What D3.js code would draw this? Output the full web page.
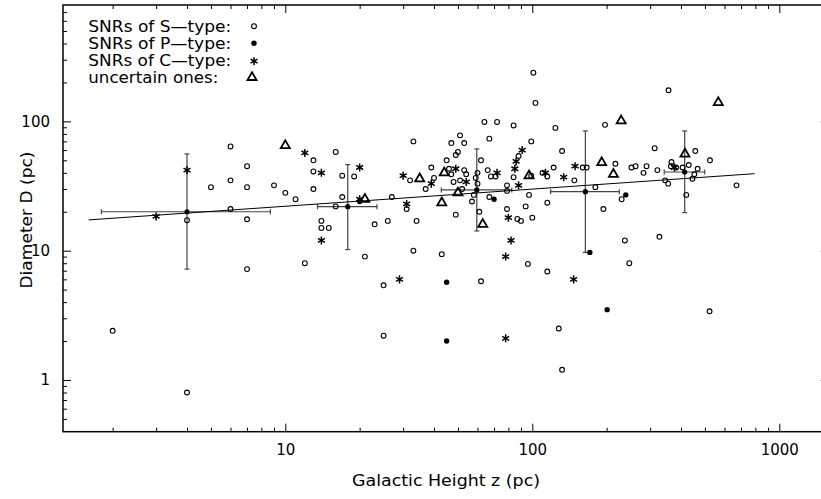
<!DOCTYPE html>
<html>
<head>
<meta charset="utf-8">
<script src="https://cdn.jsdelivr.net/npm/d3@7"></script>
<style>
  body { margin: 0; background: #fff; }
  svg { display: block; }
  text { font-family: "DejaVu Sans", sans-serif; fill: #000; }
</style>
</head>
<body>
<div id="chart"></div>
<script>
// [z (pc), D (pc)]
const sType = [
  [4,17.2],[6,64],[7,45],[5,31],[6,35],[7,31],[9,32],[10,28],[11,25],[6,21],[7,17.5],[7,7.2],[12,8],
  [16,58],[13,50],[13,41],[13,30],[17,38],[19,37.5],[17,26],[16,22],[14,17],[14,15],[15,15],[21,9],
  [23,16],[26,17],[27,26],[25,5.4],[33,70],[32,35],[39,44],[40,36.5],[37,30],[31,21],[34,17],[33,10],
  [43,9.4],[62,5.8],[45,50],[47,68],[51,78],[53,68],[49,55],[50,58],[46,43],[47,39],[53,42],[54,39],
  [48,34],[51,35],[52,30],[58,27],[57,24],[49,19],[60,40],[59,36.5],[60,33],[62,50],[64,99],[72,99],
  [67,73.5],[84,93],[66,42],[68,37.5],[71,37.5],[88,54],[84,37],[79,32],[67,26],[79,21],[94,22],[97,27],
  [87,17.6],[90,17],[96,7.9],[99,70],[99,38],[61,20],[101,238],[103,139],[124,89],[356,174],[197,94],
  [132,59],[110,40],[115,37.5],[122,44],[160,44],[166,44],[148,35],[217,47],[252,44],[262,45],[290,45],
  [282,40],[313,62],[321,42],[345,35],[355,33],[366,48.5],[364,45],[382,44],[406,44],[430,46],[457,59],
  [467,43],[524,50],[453,39],[445,36],[420,27],[671,32],[180,31],[230,25],[194,21],[237,12],[247,8],
  [327,12.8],[115,6.9],[100,18],[115,23.5],[79,29],[522,3.4],[128,2.5],[132,1.2],[2,2.4],[4,0.8],[25,2.2]
];
const pType = [[20,24],[45,5.7],[70,25],[171,9.7],[239,27],[201,3.5],[45,2]];
const cType = [
  [3,18.4],[4,42],[12,57],[14,40],[20,44],[20,25],[14,12],[29,6],[30,38],[39,33],[31,23],[49,43],
  [54,34],[72,40],[86,49],[85,43],[91,60],[88,32],[80,18],[82,12],[78,9],[113,40],[149,45],[134,37],
  [376,44],[147,6],[78,2.1]
];
const uncertain = [
  [10,65],[21,25],[35,36],[43,23.5],[44,40],[50,28],[63,16],[97,38],[229,101],[566,140],[191,48],
  [213,39],[415,56]
];
// binned means: z, zLow, zHigh, D, DLow, DHigh
const binMeans = [
  [4, 1.8, 8.7, 20, 7.2, 56],
  [17.9, 13.5, 23.5, 21.9, 10.2, 46.3],
  [59.6, 42.8, 82.6, 29.5, 14.2, 61.2],
  [164, 118.6, 225, 28.6, 9.7, 84.3],
  [414, 342, 499, 40.6, 19.7, 84.3]
];
const fitLine = [[1.6, 17.3], [794, 39.4]];

const xTickValues = [10, 100, 1000];
const xTickLabels = ["10", "100", "1000"];
const yTickValues = [1, 10, 100];
const yTickLabels = ["1", "10", "100"];
const legendLabels = ["SNRs of S\u2014type:", "SNRs of P\u2014type:", "SNRs of C\u2014type:", "uncertain ones:"];

const W = 821, H = 499;
const margin = { top: 5, left: 63 };
const width = 765.7, height = 426.7;

const svg = d3.select("#chart").append("svg")
  .attr("width", W).attr("height", H);
const g = svg.append("g").attr("transform", `translate(${margin.left},${margin.top})`);

const x = d3.scaleLog().domain([10 ** 0.1, 10 ** 3.2]).range([0, width]);
const y = d3.scaleLog().domain([10 ** -0.4, 10 ** 2.9]).range([height, 0]);

const isMajor = v => Math.abs(Math.log10(v) - Math.round(Math.log10(v))) < 1e-9;
const xMinor = x.ticks().filter(v => !isMajor(v));
const yMinor = y.ticks().filter(v => !isMajor(v) && y(v) < height - 1 && y(v) > 1);

function styleAxis(sel) {
  sel.select(".domain").remove();
  sel.selectAll("line").attr("stroke", "#000").attr("stroke-width", 1);
  sel.selectAll("text").attr("font-size", 15).attr("fill", "#000");
}

// major ticks (with labels)
g.append("g").attr("transform", `translate(0,${height})`)
  .call(d3.axisBottom(x).tickValues(xTickValues).tickFormat((d, i) => xTickLabels[i]).tickSize(-8).tickPadding(13))
  .call(styleAxis);
g.append("g")
  .call(d3.axisTop(x).tickValues(xTickValues).tickFormat("").tickSize(-8))
  .call(styleAxis);
g.append("g")
  .call(d3.axisLeft(y).tickValues(yTickValues).tickFormat((d, i) => yTickLabels[i]).tickSize(-8).tickPadding(13))
  .call(styleAxis);
g.append("g").attr("transform", `translate(${width},0)`)
  .call(d3.axisRight(y).tickValues(yTickValues).tickFormat("").tickSize(-8))
  .call(styleAxis);

// minor ticks
g.append("g").attr("transform", `translate(0,${height})`)
  .call(d3.axisBottom(x).tickValues(xMinor).tickFormat("").tickSize(-4)).call(styleAxis);
g.append("g")
  .call(d3.axisTop(x).tickValues(xMinor).tickFormat("").tickSize(-4)).call(styleAxis);
g.append("g")
  .call(d3.axisLeft(y).tickValues(yMinor).tickFormat("").tickSize(-4)).call(styleAxis);
g.append("g").attr("transform", `translate(${width},0)`)
  .call(d3.axisRight(y).tickValues(yMinor).tickFormat("").tickSize(-4)).call(styleAxis);

// frame
g.append("rect")
  .attr("width", width).attr("height", height)
  .attr("fill", "none").attr("stroke", "#000").attr("stroke-width", 1.5);

// axis titles
svg.append("text")
  .attr("x", margin.left + x(Math.sqrt(10 ** 0.1 * 10 ** 3.2)) - 0)
  .attr("x", 446).attr("y", 486)
  .attr("text-anchor", "middle").attr("font-size", 15.5)
  .attr("textLength", 188).attr("lengthAdjust", "spacingAndGlyphs")
  .text("Galactic Height z (pc)");
svg.append("text")
  .attr("transform", "translate(32,220) rotate(-90)")
  .attr("text-anchor", "middle").attr("font-size", 15.5)
  .attr("textLength", 137).attr("lengthAdjust", "spacingAndGlyphs")
  .text("Diameter D (pc)");

// error bars of binned means
const eb = g.append("g").attr("stroke", "#444").attr("stroke-width", 1.2);
binMeans.forEach(d => {
  const [z, zl, zh, D, Dl, Dh] = d;
  eb.append("line").attr("x1", x(z)).attr("x2", x(z)).attr("y1", y(Dl)).attr("y2", y(Dh));
  eb.append("line").attr("x1", x(z) - 2.5).attr("x2", x(z) + 2.5).attr("y1", y(Dl)).attr("y2", y(Dl));
  eb.append("line").attr("x1", x(z) - 2.5).attr("x2", x(z) + 2.5).attr("y1", y(Dh)).attr("y2", y(Dh));
  eb.append("line").attr("x1", x(zl)).attr("x2", x(zh)).attr("y1", y(D)).attr("y2", y(D));
  eb.append("line").attr("x1", x(zl)).attr("x2", x(zl)).attr("y1", y(D) - 2.5).attr("y2", y(D) + 2.5);
  eb.append("line").attr("x1", x(zh)).attr("x2", x(zh)).attr("y1", y(D) - 2.5).attr("y2", y(D) + 2.5);
});
g.selectAll(".mean").data(binMeans).join("circle")
  .attr("class", "mean")
  .attr("cx", d => x(d[0])).attr("cy", d => y(d[3])).attr("r", 2.6).attr("fill", "#000");

// regression line
g.append("path")
  .datum(fitLine)
  .attr("fill", "none").attr("stroke", "#000").attr("stroke-width", 1)
  .attr("d", d3.line().x(d => x(d[0])).y(d => y(d[1])));

// markers
const star = d3.symbol().type(d3.symbolAsterisk).size(45);
const tri = d3.symbol().type(d3.symbolTriangle2).size(58);

function drawOpen(sel, data) {
  sel.selectAll("circle").data(data).join("circle")
    .attr("cx", d => x(d[0])).attr("cy", d => y(d[1])).attr("r", 2.4)
    .attr("fill", "none").attr("stroke", "#000").attr("stroke-width", 1.1);
}
function drawFilled(sel, data) {
  sel.selectAll("circle").data(data).join("circle")
    .attr("cx", d => x(d[0])).attr("cy", d => y(d[1])).attr("r", 2.7)
    .attr("fill", "#000");
}
function drawStar(sel, data) {
  sel.selectAll("path").data(data).join("path")
    .attr("transform", d => `translate(${x(d[0])},${y(d[1])})`)
    .attr("d", star).attr("fill", "none").attr("stroke", "#000").attr("stroke-width", 1.5);
}
function drawTri(sel, data) {
  sel.selectAll("path").data(data).join("path")
    .attr("transform", d => `translate(${x(d[0])},${y(d[1])})`)
    .attr("d", tri).attr("fill", "none").attr("stroke", "#000").attr("stroke-width", 1.8);
}

drawOpen(g.append("g"), sType);
drawFilled(g.append("g"), pType);
drawStar(g.append("g"), cType);
drawTri(g.append("g"), uncertain);

// legend
const legend = svg.append("g");
const legendBase = [31.7, 48.8, 65.9, 83];
const legendLen = [143, 143, 143, 130];
legendLabels.forEach((t, i) => {
  legend.append("text")
    .attr("x", 88.3).attr("y", legendBase[i])
    .attr("font-size", 15.5)
    .attr("textLength", legendLen[i]).attr("lengthAdjust", "spacingAndGlyphs")
    .text(t);
});
const lx = 254, ly = [26.2, 43.3, 61.2, 77.4];
drawOpen(legend.append("g").attr("transform", `translate(${lx - x(1)},${ly[0] - y(1)})`), [[1, 1]]);
drawFilled(legend.append("g").attr("transform", `translate(${lx - x(1)},${ly[1] - y(1)})`), [[1, 1]]);
drawStar(legend.append("g").attr("transform", `translate(${lx - x(1)},${ly[2] - y(1)})`), [[1, 1]]);
drawTri(legend.append("g").attr("transform", `translate(${lx - 2 - x(1)},${ly[3] - y(1)})`), [[1, 1]]);
</script>
</body>
</html>
